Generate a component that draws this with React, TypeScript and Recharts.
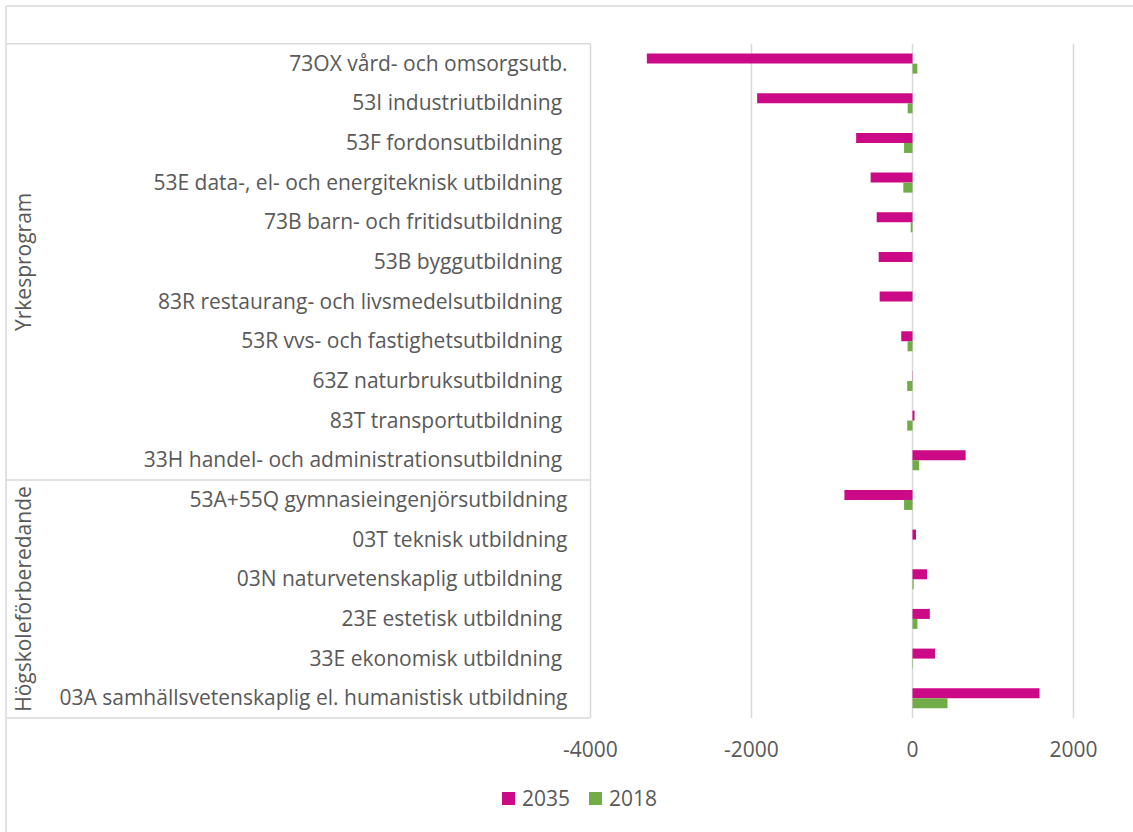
import React from 'react';
import { BarChart, Bar, XAxis, YAxis, CartesianGrid, Legend } from 'recharts';

const categories = [
  '73OX vård- och omsorgsutb.',
  '53I industriutbildning\u00A0',
  '53F fordonsutbildning\u00A0',
  '53E data-, el- och energiteknisk utbildning\u00A0',
  '73B barn- och fritidsutbildning\u00A0',
  '53B byggutbildning\u00A0',
  '83R restaurang- och livsmedelsutbildning\u00A0',
  '53R vvs- och fastighetsutbildning\u00A0',
  '63Z naturbruksutbildning\u00A0',
  '83T transportutbildning\u00A0',
  '33H handel- och administrationsutbildning\u00A0',
  '53A+55Q gymnasieingenjörsutbildning',
  '03T teknisk utbildning',
  '03N naturvetenskaplig utbildning\u00A0',
  '23E estetisk utbildning\u00A0',
  '33E ekonomisk utbildning\u00A0',
  '03A samhällsvetenskaplig el. humanistisk utbildning',
];

const values2035 = [-3300, -1930, -700, -520, -445, -420, -408, -140, 3, 25, 660, -846, 44, 180, 215, 280, 1578];
const values2018 = [60, -60, -105, -114, -22, 0, 0, -61, -66, -66, 83, -105, 0, 15, 61, -5, 435];

const seriesNames = ['2035', '2018'];
const seriesColors = ['#CC0A87', '#70AD47'];

const xTicks = [-4000, -2000, 0, 2000];

const groupNames = ['Yrkesprogram', 'Högskoleförberedande'];
const groupSizes = [11, 6];

const data = categories.map((name, i) => ({
  name,
  v2035: values2035[i],
  v2018: values2018[i],
}));

const FONT = "'Open Sans', sans-serif";
const TEXT_COLOR = '#595959';
const LINE_COLOR = '#D9D9D9';

const CHART_W = 1240;
const CHART_H = 832;
const PLOT_TOP = 43.7;
const PLOT_BOTTOM = 718;
const Y_AXIS_W = 590.5;
const X_AXIS_H = 30;
const PLOT_RIGHT = 1234.5;

const YTick = (props: any) => {
  const { x, y, payload } = props;
  return (
    <text x={x} y={y} dy={7} textAnchor="end" fontFamily={FONT} fontSize={21} fill={TEXT_COLOR}>
      {payload.value}
    </text>
  );
};

const XTick = (props: any) => {
  const { x, y, payload } = props;
  return (
    <text x={x} y={y} dy={39} textAnchor="middle" fontFamily={FONT} fontSize={21} fill={TEXT_COLOR}>
      {payload.value}
    </text>
  );
};

const LegendContent = (props: any) => {
  const payload = [...(props.payload || [])].sort(
    (a: any, b: any) => seriesNames.indexOf(String(a.value)) - seriesNames.indexOf(String(b.value))
  );
  return (
    <div style={{ display: 'flex', alignItems: 'center', fontFamily: FONT, fontSize: 21, color: TEXT_COLOR, lineHeight: '24px' }}>
      {payload.map((p: any, i: number) => (
        <div key={i} style={{ display: 'flex', alignItems: 'center', marginRight: 19 }}>
          <span style={{ display: 'inline-block', width: 13, height: 13, background: p.color, marginRight: 7 }} />
          <span>{p.value}</span>
        </div>
      ))}
    </div>
  );
};

const TableOverlay = () => {
  const rowH = (PLOT_BOTTOM - PLOT_TOP) / categories.length;
  const lines: React.ReactNode[] = [];
  const labels: React.ReactNode[] = [];
  let start = 0;
  groupSizes.forEach((size, gi) => {
    const y0 = PLOT_TOP + start * rowH;
    const y1 = PLOT_TOP + (start + size) * rowH;
    lines.push(<line key={'l' + gi} x1={6} x2={Y_AXIS_W} y1={y1} y2={y1} stroke={LINE_COLOR} strokeWidth={1.5} />);
    const cy = (y0 + y1) / 2;
    labels.push(
      <text
        key={'t' + gi}
        transform={`translate(31, ${cy}) rotate(-90)`}
        textAnchor="middle"
        fontFamily={FONT}
        fontSize={21}
        fill={TEXT_COLOR}
      >
        {groupNames[gi]}
      </text>
    );
    start += size;
  });
  return (
    <svg width={1133} height={832} style={{ position: 'absolute', left: 0, top: 0, pointerEvents: 'none' }}>
      <line x1={6} x2={1133} y1={6} y2={6} stroke={LINE_COLOR} strokeWidth={1.5} />
      <line x1={6} x2={6} y1={6} y2={832} stroke={LINE_COLOR} strokeWidth={1.5} />
      <line x1={6} x2={Y_AXIS_W} y1={PLOT_TOP} y2={PLOT_TOP} stroke={LINE_COLOR} strokeWidth={1.5} />
      {lines}
      {labels}
    </svg>
  );
};

export default function App() {
  return (
    <div style={{ position: 'absolute', left: 0, top: 0, width: 1133, height: 832, overflow: 'hidden', background: '#fff' }}>
      <BarChart
        width={CHART_W}
        height={CHART_H}
        data={data}
        layout="vertical"
        margin={{ top: PLOT_TOP, right: CHART_W - PLOT_RIGHT, left: 0, bottom: CHART_H - PLOT_BOTTOM - X_AXIS_H }}
        barCategoryGap="25%"
        barGap={0}
      >
        <CartesianGrid horizontal={false} vertical={true} stroke={LINE_COLOR} strokeWidth={1.5} strokeDasharray="" />
        <XAxis
          type="number"
          domain={[-4000, 4000]}
          ticks={xTicks}
          axisLine={false}
          tickLine={false}
          tickSize={0}
          tickMargin={0}
          height={X_AXIS_H}
          tick={<XTick />}
          interval={0}
        />
        <YAxis
          type="category"
          dataKey="name"
          width={Y_AXIS_W}
          axisLine={false}
          tickLine={false}
          tickSize={0}
          tickMargin={23}
          interval={0}
          tick={<YTick />}
        />
        <Legend
          layout="horizontal"
          verticalAlign="middle"
          align="center"
          wrapperStyle={{ left: 502, top: 786, width: 220, height: 24 }}
          content={<LegendContent />}
        />
        <Bar dataKey="v2035" name={seriesNames[0]} fill={seriesColors[0]} isAnimationActive={false} />
        <Bar dataKey="v2018" name={seriesNames[1]} fill={seriesColors[1]} isAnimationActive={false} />
      </BarChart>
      <TableOverlay />
    </div>
  );
}
